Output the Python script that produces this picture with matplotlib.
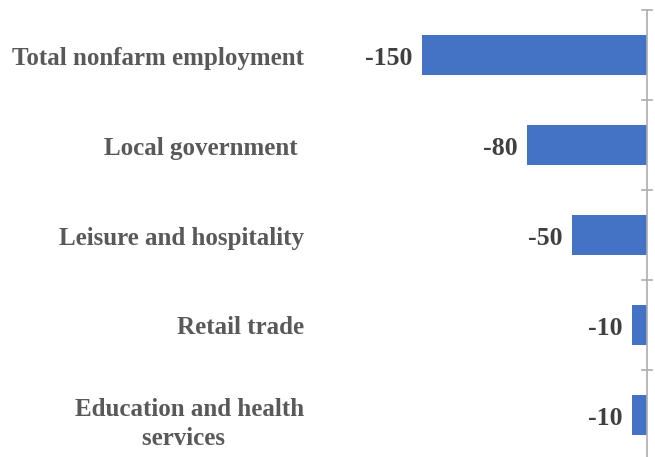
import numpy as np
import matplotlib.pyplot as plt

categories = ['Total nonfarm employment', 'Local government ', 'Leisure and hospitality',
              'Retail trade', 'Education and health\nservices  ']
values = [-150, -80, -50, -10, -10]

W, H = 655, 457
fig = plt.figure(figsize=(W / 100, H / 100), dpi=100)

# axes placed in pixel terms: zero line at x~647, bands of 90 px from y=10
left_px, right_px = 200, 655
top_px, bottom_px = 10, 460
ax = fig.add_axes([left_px / W, 1 - bottom_px / H, (right_px - left_px) / W, (bottom_px - top_px) / H])
ax.set_axis_off()

zero_px = 646.7
scale = 1.5  # px per unit
ax.set_xlim(-(zero_px - left_px) / scale, (right_px - zero_px) / scale)
n = len(categories)
ax.set_ylim(n - 0.5, -0.5)

ypos = np.arange(n)
ax.barh(ypos, values, height=0.45, color='#4472C4', zorder=2)

# value axis line at zero with cross ticks between categories
ax.plot([0, 0], [-0.5, n - 0.5], color='#ADADAD', lw=1.2, zorder=3, clip_on=False)
tick_half = 5 / scale
for b in np.arange(-0.5, n, 1.0):
    ax.plot([-tick_half, tick_half], [b, b], color='#ADADAD', lw=1.2, zorder=3, clip_on=False)

serif = ['Liberation Serif', 'DejaVu Serif']
for y, v in zip(ypos, values):
    ax.text(v - 9.5 / scale, y + 3.5 / 90, str(v), ha='right', va='center', fontsize=18.5,
            fontweight='bold', family=serif, color='#404040')

label_y = [58, 148, 238, 328, 424]
for yp, c in zip(label_y, categories):
    fig.text(304 / W, 1 - yp / H, c, ha='right', va='center',
             multialignment='center', fontsize=18, fontweight='bold', family=serif,
             color='#595959', linespacing=1.35)

fig.savefig('out.png', dpi=100)
